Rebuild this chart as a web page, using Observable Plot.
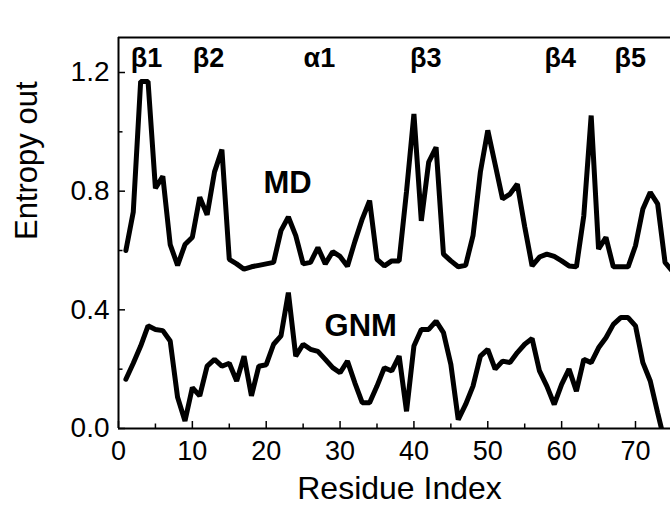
<!DOCTYPE html>
<html><head><meta charset="utf-8">
<script src="https://cdn.jsdelivr.net/npm/d3@7"></script>
<script src="https://cdn.jsdelivr.net/npm/@observablehq/plot@0.6"></script>
<style>body{margin:0;background:#fff}</style>
</head><body><div id="chart"></div>
<script>
const residues = [1,2,3,4,5,6,7,8,9,10,11,12,13,14,15,16,17,18,19,20,21,22,23,24,25,26,27,28,29,30,31,32,33,34,35,36,37,38,39,40,41,42,43,44,45,46,47,48,49,50,51,52,53,54,55,56,57,58,59,60,61,62,63,64,65,66,67,68,69,70,71,72,73,74,75];
const mdEntropy = [0.60,0.73,1.17,1.17,0.81,0.85,0.62,0.55,0.62,0.645,0.78,0.72,0.865,0.94,0.57,0.555,0.537,0.545,0.55,0.555,0.56,0.667,0.713,0.65,0.555,0.56,0.61,0.555,0.596,0.58,0.547,0.63,0.706,0.768,0.57,0.548,0.565,0.565,0.80,1.06,0.70,0.898,0.948,0.588,0.565,0.545,0.55,0.65,0.865,1.005,0.89,0.774,0.79,0.824,0.68,0.548,0.578,0.588,0.58,0.565,0.548,0.545,0.717,1.055,0.605,0.644,0.545,0.545,0.545,0.616,0.74,0.796,0.757,0.56,0.53];
const gnmEntropy = [0.166,0.22,0.278,0.346,0.334,0.33,0.295,0.105,0.025,0.138,0.11,0.21,0.233,0.21,0.22,0.16,0.244,0.11,0.21,0.215,0.284,0.312,0.458,0.244,0.284,0.267,0.26,0.233,0.205,0.188,0.227,0.154,0.087,0.087,0.143,0.205,0.194,0.244,0.058,0.278,0.334,0.334,0.362,0.323,0.216,0.03,0.081,0.143,0.244,0.267,0.2,0.227,0.222,0.256,0.284,0.303,0.194,0.143,0.081,0.149,0.2,0.126,0.233,0.222,0.272,0.306,0.351,0.374,0.374,0.346,0.222,0.16,0.053,-0.05];
const xTicks = [0,10,20,30,40,50,60,70];
const xMinorTicks = [5,15,25,35,45,55,65];
const yTicks = [0,0.4,0.8,1.2];
const yTickLabels = ["0.0","0.4","0.8","1.2"];
const yMinorTicks = [0.2,0.6,1.0];
const structureLabels = ["β1","β2","α1","β3","β4","β5"];
const structureX = [3.8,12.2,27.2,41.6,59.8,69.3];
const structureY = [1.217,1.217,1.217,1.217,1.217,1.217];
const seriesNames = ["MD","GNM"];
const seriesLabelX = [22.9,32.8];
const seriesLabelY = [0.795,0.313];
const xDomain = [0,74.74];
const yDomain = [0,1.318];

const W = 670, H = 515, mL = 118, mR = 0, mT = 37, mB = 87;
const innerW = W - mL - mR, innerH = H - mT - mB;

const mdRows = residues.map((r,i)=>({x:r, y:mdEntropy[i]}));
const gnmRows = gnmEntropy.map((v,i)=>({x:residues[i], y:v}));
const structRows = structureLabels.map((t,i)=>({t, x:structureX[i], y:structureY[i]}));
const seriesRows = seriesNames.map((t,i)=>({t, x:seriesLabelX[i], y:seriesLabelY[i]}));

const font = "'Liberation Sans', Arial, Helvetica, sans-serif";
const chart = Plot.plot({
  width: W, height: H, marginLeft: mL, marginRight: mR, marginTop: mT, marginBottom: mB,
  x: {domain: xDomain},
  y: {domain: yDomain},
  style: {fontFamily: font, background: "white", color: "black"},
  marks: [
    Plot.axisX({ticks: xTicks, tickSize: 0, tickPadding: 12, fontSize: 27, tickFormat: d => String(d), label: null}),
    Plot.axisY({ticks: yTicks, tickSize: 0, tickPadding: 9, fontSize: 28, tickFormat: d => yTickLabels[yTicks.indexOf(d)], label: null}),
    Plot.tickX(xTicks, {x: d => d, insetTop: innerH - 7, stroke: "black", strokeWidth: 1.5}),
    Plot.tickX(xMinorTicks, {x: d => d, insetTop: innerH - 4.5, stroke: "black", strokeWidth: 1.5}),
    Plot.tickY(yTicks, {y: d => d, insetRight: innerW - 7, stroke: "black", strokeWidth: 1.5}),
    Plot.tickY(yMinorTicks, {y: d => d, insetRight: innerW - 4.5, stroke: "black", strokeWidth: 1.5}),
    Plot.ruleX([xDomain[0]], {stroke: "black", strokeWidth: 2}),
    Plot.ruleY([yDomain[0]], {stroke: "black", strokeWidth: 2}),
    Plot.ruleY([yDomain[1]], {stroke: "black", strokeWidth: 2}),
    Plot.line(mdRows, {x: "x", y: "y", stroke: "black", strokeWidth: 5, strokeLinejoin: "miter", clip: true}),
    Plot.line(gnmRows, {x: "x", y: "y", stroke: "black", strokeWidth: 5, strokeLinejoin: "miter", clip: true}),
    Plot.text(structRows, {x: "x", y: "y", text: "t", fontSize: 27, fontWeight: "bold", lineAnchor: "bottom", fill: "black"}),
    Plot.text(seriesRows, {x: "x", y: "y", text: "t", fontSize: 31, fontWeight: "bold", lineAnchor: "bottom", fill: "black"}),
    Plot.text(["Residue Index"], {text: d => d, frameAnchor: "bottom", dx: 5, dy: 70, lineAnchor: "bottom", fontSize: 32, fill: "black"}),
    Plot.text(["Entropy out"], {text: d => d, frameAnchor: "left", rotate: -90, dx: -82, dy: 7, lineAnchor: "bottom", fontSize: 31, fill: "black"})
  ]
});
document.getElementById("chart").appendChild(chart);
</script>
</body></html>
